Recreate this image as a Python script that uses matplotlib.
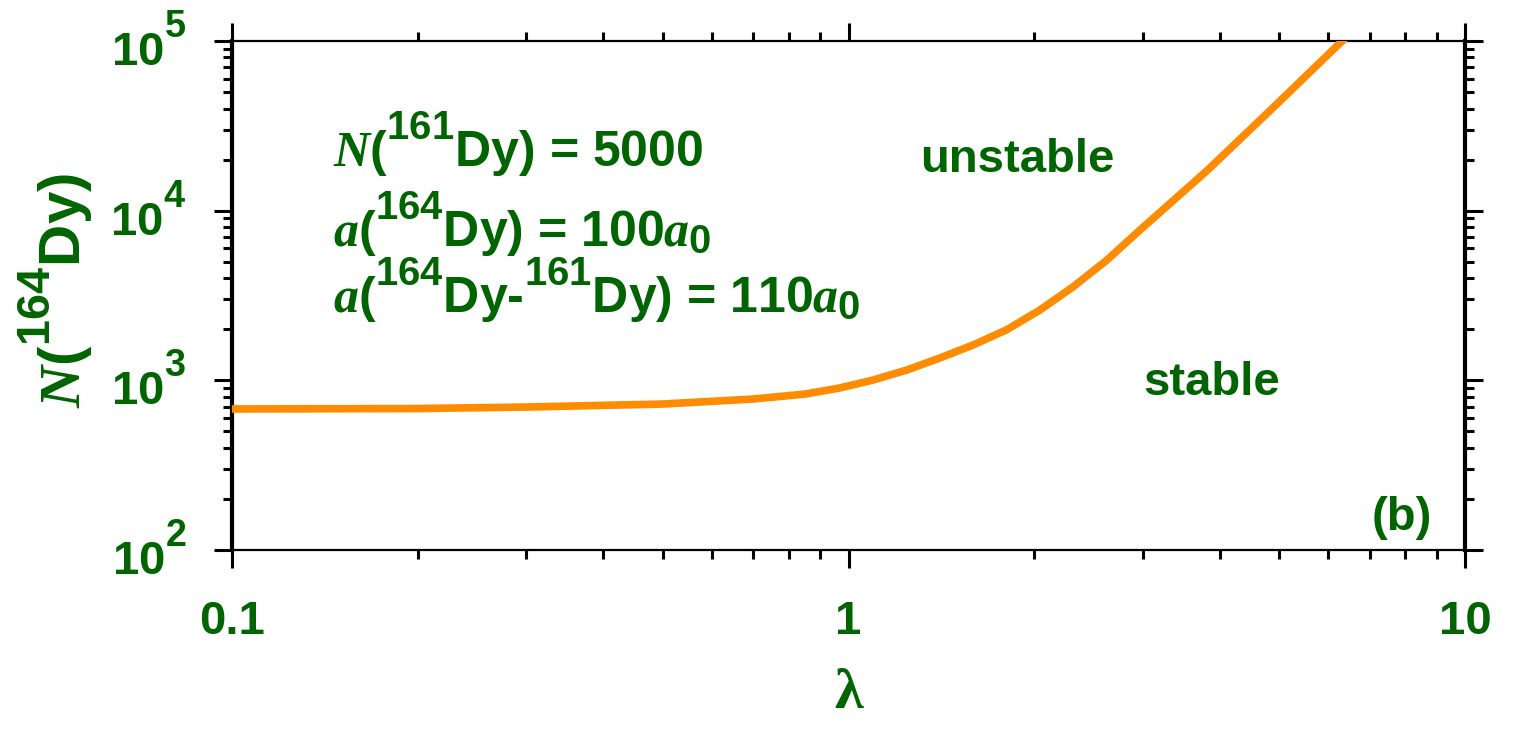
import matplotlib
matplotlib.use("Agg")
import matplotlib.pyplot as plt
import matplotlib._mathtext as _mt
from matplotlib.ticker import LogLocator, NullFormatter, FixedLocator, FixedFormatter

plt.rcParams["font.family"] = ["Liberation Sans", "DejaVu Sans"]
plt.rcParams["font.weight"] = "bold"
plt.rcParams["mathtext.fontset"] = "custom"
plt.rcParams["mathtext.rm"] = "Liberation Sans:bold"
plt.rcParams["mathtext.it"] = "Liberation Serif:bold:italic"
plt.rcParams["mathtext.bf"] = "Liberation Sans:bold"

# larger, higher isotope superscripts
if hasattr(_mt, "SHRINK_FACTOR"):
    _mt.SHRINK_FACTOR = 0.8
if hasattr(_mt, "FontConstantsBase"):
    _mt.FontConstantsBase.sup1 = 1.15

# stability boundary: critical 164Dy number versus trap aspect ratio lambda
lam = [0.1, 0.2, 0.3, 0.5, 0.7, 0.85, 0.968, 1.096, 1.244, 1.407, 1.592, 1.807,
       2.045, 2.313, 2.627, 2.971, 3.82, 4.89, 6.27, 6.6]
n164 = [678, 682, 696, 725, 776, 830, 902, 1004, 1151, 1355, 1615, 1990,
        2600, 3555, 5130, 7700, 17300, 40700, 97300, 116000]

x_ticks = [0.1, 1, 10]
x_ticklabels = ["0.1", "1", "10"]

GREEN = "#006400"
ORANGE = "#ff8c00"
FS = 36
FS_TICK = 34

fig = plt.figure(figsize=(15.22, 7.36), dpi=100)
ax = fig.add_axes([0.1524, 0.2527, 0.9626 - 0.1524, 0.9443 - 0.2527])

ax.plot(lam, n164, color=ORANGE, lw=5.5, solid_capstyle="butt",
        solid_joinstyle="round", zorder=3)

ax.set_xscale("log")
ax.set_yscale("log")
ax.set_xlim(0.1, 10)
ax.set_ylim(1e2, 1e5)

ax.xaxis.set_major_locator(FixedLocator(x_ticks))
ax.xaxis.set_major_formatter(FixedFormatter(x_ticklabels))
ax.xaxis.set_minor_locator(LogLocator(base=10, subs=range(2, 10)))
ax.xaxis.set_minor_formatter(NullFormatter())
ax.yaxis.set_major_locator(LogLocator(base=10, numticks=10))
ax.yaxis.set_minor_locator(LogLocator(base=10, subs=range(2, 10), numticks=20))
ax.yaxis.set_minor_formatter(NullFormatter())

for side in ("left", "right"):
    ax.spines[side].set_linewidth(3.0)
for side in ("top", "bottom"):
    ax.spines[side].set_linewidth(1.6)

ax.tick_params(which="both", direction="out", top=True, right=True,
               colors="black", labelcolor=GREEN)
ax.tick_params(which="major", length=13, width=2.2, labelsize=FS_TICK)
ax.tick_params(which="minor", length=6.5, width=2.2)
ax.tick_params(axis="x", which="major", pad=23)
ax.tick_params(axis="y", which="major", pad=20)

ax.text(0.50, -0.283, "λ", transform=ax.transAxes, ha="center", va="center",
        fontsize=42, color=GREEN, family=["Liberation Serif", "DejaVu Serif"],
        fontweight="bold")
ax.text(-0.143, 0.509, r"$\mathit{N}$(${}^{164}$Dy)", transform=ax.transAxes,
        rotation=90, ha="center", va="center", fontsize=42, color=GREEN)

ax.text(0.082, 0.752, r"$\mathit{N}$(${}^{161}$Dy) = 5000", transform=ax.transAxes,
        ha="left", va="baseline", fontsize=FS, color=GREEN)
ax.text(0.082, 0.595, r"$\mathit{a}$(${}^{164}$Dy) = 100$\mathit{a}_0$", transform=ax.transAxes,
        ha="left", va="baseline", fontsize=FS, color=GREEN)
ax.text(0.082, 0.466, r"$\mathit{a}$(${}^{164}$Dy-${}^{161}$Dy) = 110$\mathit{a}_0$",
        transform=ax.transAxes, ha="left", va="baseline", fontsize=FS, color=GREEN)

ax.text(0.558, 0.766, "unstable", transform=ax.transAxes, ha="left", va="center",
        fontsize=FS_TICK, color=GREEN)
ax.text(0.739, 0.328, "stable", transform=ax.transAxes, ha="left", va="center",
        fontsize=FS_TICK, color=GREEN)
ax.text(0.973, 0.063, "(b)", transform=ax.transAxes, ha="right", va="center",
        fontsize=FS_TICK, color=GREEN)

fig.savefig("out.png", dpi=100, facecolor="white")
